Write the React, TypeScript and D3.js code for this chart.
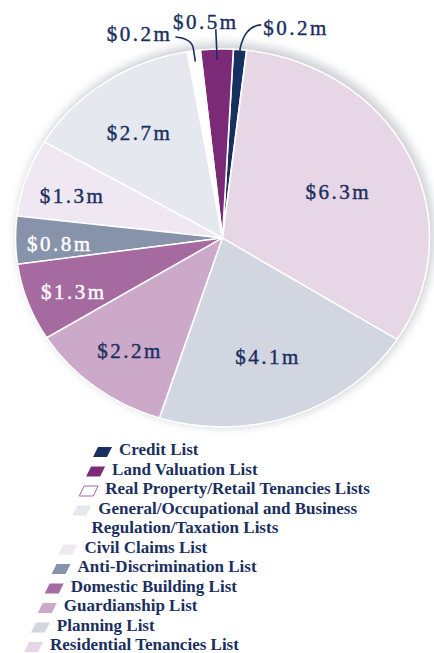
import React from "react";
import * as d3 from "d3";

// legend order (pie runs the other way round from Credit)
const categories = [
  "Credit List",
  "Land Valuation List",
  "Real Property/Retail Tenancies Lists",
  "General/Occupational and Business Regulation/Taxation Lists",
  "Civil Claims List",
  "Anti-Discrimination List",
  "Domestic Building List",
  "Guardianship List",
  "Planning List",
  "Residential Tenancies List",
];
const amounts = [0.2, 0.5, 0.2, 2.7, 1.3, 0.8, 1.3, 2.2, 4.1, 6.3];
const colors = [
  "#16305f",
  "#7b2a78",
  "#ffffff",
  "#e5e8ee",
  "#efe7f1",
  "#8793ab",
  "#a56aa0",
  "#cca9c9",
  "#d1d6e1",
  "#e7d6e6",
];

const W = 434;
const H = 653;
const cx = 222.5;
const cy = 238;
const R = 207;
const ky = 189 / 207; // pie is drawn slightly squashed
const navy = "#1b2f5f";
const serif = "'Liberation Serif', 'DejaVu Serif', serif";

const fmt = (v: number) => `$${v.toFixed(1)}m`;

const polar = (r: number, a: number) => [cx + r * Math.sin(a), cy - r * Math.cos(a) * ky];

const wrap = (s: string, max: number) => {
  const lines: string[] = [];
  let cur = "";
  s.split(" ").forEach((w) => {
    if (cur && (cur + " " + w).length > max) {
      lines.push(cur);
      cur = w;
    } else cur = cur ? cur + " " + w : w;
  });
  lines.push(cur);
  return lines;
};

const App = () => {
  const start = (6.7 * Math.PI) / 180;
  const pie = d3
    .pie<number>()
    .sort(null)
    .value((d) => d)
    .startAngle(start)
    .endAngle(start - 2 * Math.PI);
  const slices = pie(amounts);

  const arc = d3.arc<d3.PieArcDatum<number>>().innerRadius(0).outerRadius(R);

  const mid = (s: d3.PieArcDatum<number>) => {
    let a = (s.startAngle + s.endAngle) / 2;
    while (a > Math.PI) a -= 2 * Math.PI;
    while (a <= -Math.PI) a += 2 * Math.PI;
    return a;
  };

  // slices too narrow for an inside label get a callout above the pie
  const small = slices
    .map((s, i) => ({ s, i }))
    .filter((d) => d.s.value < 0.6)
    .sort((a, b) => mid(a.s) - mid(b.s));

  const legendX0 = 119;
  const legendY0 = 455;
  const lineH = 19.5;
  const slope = 0.354;
  let line = 0;
  const legend = categories.map((c, i) => {
    const lines = wrap(c, 36).map((t) => {
      const y = legendY0 + line * lineH;
      line += 1;
      return { t, y, x: legendX0 - slope * (y - legendY0) };
    });
    return { c, i, lines };
  });

  return (
    <svg width={W} height={H} style={{ position: "absolute", left: 0, top: 0 }}>
      <defs>
        <filter id="shadow" x="-20%" y="-20%" width="140%" height="140%">
          <feGaussianBlur stdDeviation="5" />
        </filter>
      </defs>
      <rect width={W} height={H} fill="#ffffff" />
      <ellipse
        cx={cx + 3}
        cy={cy - 3}
        rx={R + 2}
        ry={R * ky + 3}
        fill="#bfc1c7"
        opacity={0.75}
        filter="url(#shadow)"
      />
      <g transform={`translate(${cx},${cy}) scale(1,${ky})`}>
        {slices.map((s, i) => (
          <path key={categories[i]} d={arc(s) || ""} fill={colors[i]} stroke="#ffffff" strokeWidth={1.6} />
        ))}
      </g>
      {slices.map((s, i) => {
        if (s.value < 0.6) return null;
        const span = Math.abs(s.endAngle - s.startAngle);
        const r = R * (0.82 - 0.2 * Math.min(1, span / 1.5));
        const [x, y] = polar(r, mid(s));
        const light = d3.lab(colors[i]).l < 65;
        return (
          <text
            key={"l" + i}
            x={x}
            y={y + 4}
            dy="0.35em"
            textAnchor="middle"
            fontFamily={serif}
            fontSize={21}
            letterSpacing={2.5}
            stroke={light ? "#ffffff" : navy}
            strokeWidth={0.4}
            fill={light ? "#ffffff" : navy}
          >
            {fmt(amounts[i])}
          </text>
        );
      })}
      {small.map(({ s, i }, k) => {
        const a = mid(s);
        const [x0, y0] = polar(R - 12, a);
        const [xr, yr] = polar(R + 2, a);
        const side = k === 0 ? "left" : k === small.length - 1 ? "right" : "up";
        let d = "";
        let tx = xr;
        let ty = yr;
        let anchor = "middle";
        if (side === "right") {
          d = `M${x0},${y0}L${xr},${yr}C${xr + 3},${yr - 12} ${xr + 8},${yr - 22} ${xr + 21},${yr - 23}`;
          tx = xr + 23;
          ty = yr - 13;
          anchor = "start";
        } else if (side === "left") {
          d = `M${x0},${y0}L${xr},${yr}C${xr - 1},${yr - 7} ${xr - 6},${yr - 11} ${xr - 18},${yr - 12}`;
          tx = xr - 21;
          ty = yr - 8;
          anchor = "end";
        } else {
          d = `M${x0},${y0}L${xr - 1},${yr - 18}`;
          tx = xr - 11;
          ty = yr - 18;
        }
        return (
          <g key={"c" + i}>
            <path d={d} fill="none" stroke={navy} strokeWidth={1.6} />
            <text
              x={tx}
              y={ty}
              textAnchor={anchor}
              fontFamily={serif}
              fontSize={21}
              letterSpacing={2.5}
              stroke={navy}
              strokeWidth={0.4}
              fill={navy}
            >
              {fmt(amounts[i])}
            </text>
          </g>
        );
      })}
      {legend.map(({ c, i, lines }) => {
        const tx = lines[0].x;
        const by = lines[0].y;
        const pts = [
          [tx - 26, by + 2],
          [tx - 12, by + 2],
          [tx - 7, by - 8],
          [tx - 21, by - 8],
        ];
        const outline = colors[i] === "#ffffff";
        return (
          <g key={"g" + c}>
            <polygon
              points={pts.map((p) => p.join(",")).join(" ")}
              fill={colors[i]}
              stroke={outline ? "#a36ba0" : "none"}
              strokeWidth={1}
            />
            {lines.map((ln) => (
              <text key={ln.t} x={ln.x} y={ln.y} fontFamily={serif} fontWeight={600} fontSize={17} fill={navy}>
                {ln.t}
              </text>
            ))}
          </g>
        );
      })}
    </svg>
  );
};

export default App;
